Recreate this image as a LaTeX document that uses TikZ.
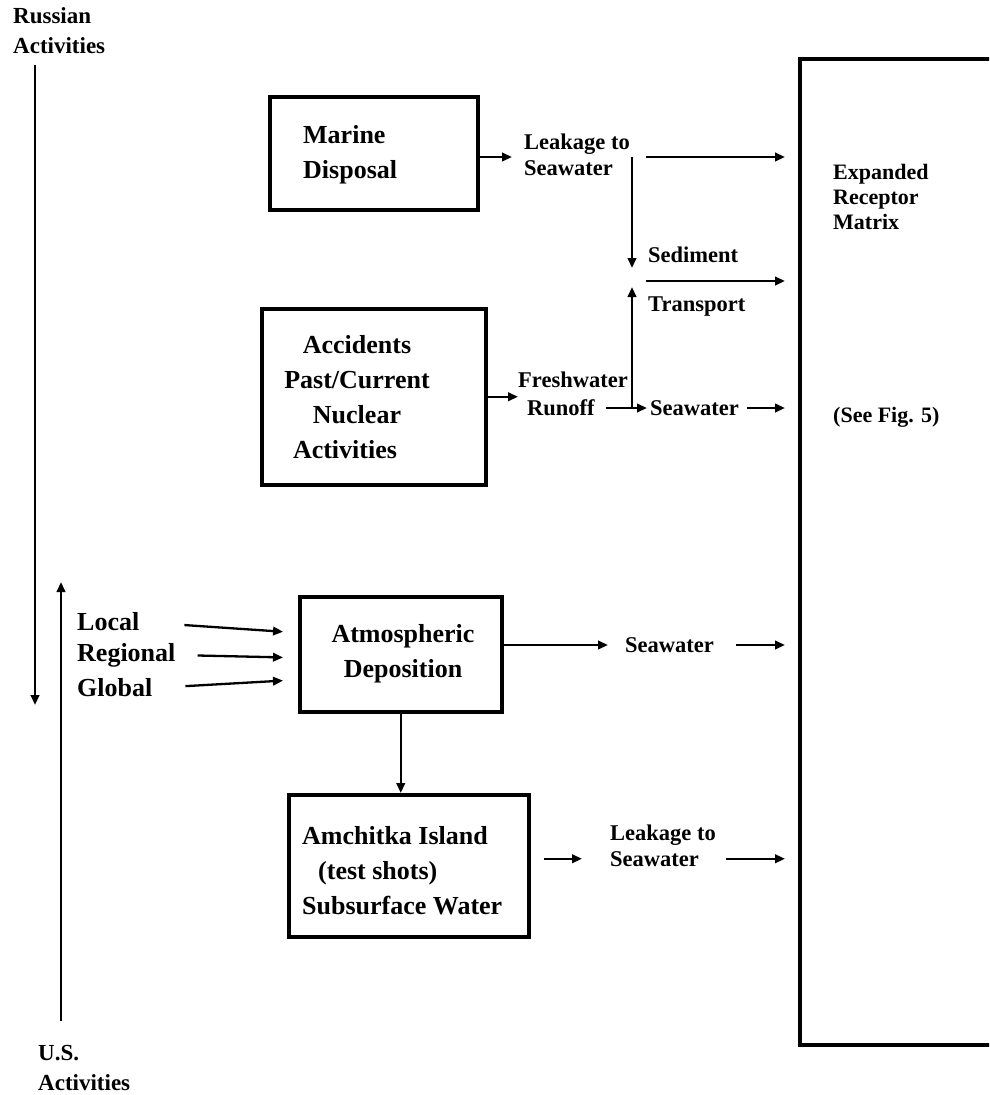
\documentclass[tikz,border=0pt]{standalone}
\usepackage{fontspec}
\setmainfont{Liberation Serif}
\usetikzlibrary{arrows.meta}
\tikzset{
  box/.style={draw, line width=3.5pt, inner sep=0pt, anchor=north west},
  lbl/.style={font=\bfseries\fontsize{22.5}{26}\selectfont, inner sep=0pt, align=left, anchor=west},
  boxtxt/.style={font=\bfseries\fontsize{26}{35}\selectfont, inner sep=0pt},
  lrg/.style={font=\bfseries\fontsize{26}{33}\selectfont, inner sep=0pt, anchor=west},
  side/.style={font=\bfseries\fontsize{23}{30}\selectfont, inner sep=0pt, align=left, anchor=west},
  rtxt/.style={font=\bfseries\fontsize{22}{25}\selectfont, inner sep=0pt, align=left, anchor=west},
  arr/.style={line width=2.3pt, -{Triangle[length=10pt,width=8.5pt]}},
}
\begin{document}
\begin{tikzpicture}[x=1pt,y=-1pt]
\useasboundingbox (0,0) rectangle (989,1095);
\clip (0,0) rectangle (989,1095);

% side labels and their long arrows
\node[side] (ru) at (13,31) {Russian\\Activities};
\node[side] (us) at (38,1068) {U.S.\\Activities};
\coordinate (ruEnd) at (35,705);
\coordinate (usEnd) at (61,582);
\draw[arr] ([shift={(22,11)}]ru.south west) -- (ruEnd);
\draw[arr] ([shift={(23,-24)}]us.north west) -- (usEnd);

% receptor matrix (runs off the right edge)
\node[box, minimum width=210, minimum height=986] (rec) at (798,57) {};
\node[rtxt] (recT) at (833,197) {Expanded\\Receptor\\Matrix};
\node[rtxt] (recF) at (833,417) {(See Fig. 5)};

% source boxes
\node[box, minimum width=208, minimum height=113] (mar) at (268,95) {};
\node[boxtxt, align=left, anchor=west] (marT) at (303,155) {Marine\\Disposal};

\node[box, minimum width=224, minimum height=176] (acc) at (260,307) {};
\node[boxtxt, align=center] (accT) at (357,397) {Accidents\\Past/Current\\Nuclear\\Activities\hspace*{24pt}};

\node[box, minimum width=202, minimum height=115] (atm) at (298,595) {};
\node[boxtxt, align=center] (atmT) at (403,654) {Atmospheric\\Deposition};

\node[box, minimum width=240, minimum height=142] (amc) at (287,793) {};
\node[boxtxt, align=left, anchor=west] (amcT) at (302,871) {Amchitka Island\\\hspace*{16pt}(test shots)\\Subsurface Water};

% scales of deposition
\node[lrg] (loc) at (77,622) {Local};
\node[lrg] (reg) at (77,655) {Regional};
\node[lrg] (glo) at (77,688) {Global};

% pathway labels
\node[lbl] (leak1) at (524,155) {Leakage to\\Seawater};
\node[lbl] (sed) at (648,255) {Sediment};
\node[lbl] (tra) at (648,307) {Transport};
\node[lbl] (fw) at (518,380) {Freshwater};
\node[lbl] (ro) at (527,408) {Runoff};
\node[lbl] (sw1) at (650,408) {Seawater};
\node[lbl] (sw2) at (625,645) {Seawater};
\node[lbl] (leak2) at (610,846) {Leakage to\\Seawater};

% junctions
\coordinate (jA) at (632,157);
\coordinate (jB) at (632,281);
\coordinate (jC) at (632,408);
\coordinate (jE) at ([yshift=7pt]amc.east);

% marine disposal pathways
\draw[arr, shorten >=12pt] (mar.east |- jA) -- (leak1.west |- jA);
\draw[arr, shorten >=13pt] ([xshift=14pt]jA) -- (rec.west |- jA);
\draw[arr, shorten >=13pt] (jA) -- (jB);
\draw[arr, shorten >=6pt] (jC) -- (jB);
\draw[arr, shorten >=13pt] ([xshift=14pt]jB) -- (rec.west |- jB);

% accidents pathways
\draw[arr] (acc.east) -- (fw.west |- acc.east);
\draw[arr, shorten <=11pt, shorten >=3pt] (ro.east) -- (sw1.west);
\draw[arr, shorten <=8pt, shorten >=13pt] (sw1.east) -- (rec.west |- sw1.east);

% atmospheric pathways
\draw[arr, shorten <=45pt, shorten >=15pt] (loc.east) -- ([yshift=21.5pt]atm.west);
\draw[arr, shorten <=22pt, shorten >=15pt] (reg.east) -- ([yshift=-3.5pt]atm.west);
\draw[arr, shorten <=33pt, shorten >=15pt] (glo.east) -- ([yshift=-25.5pt]atm.west);
\draw[arr, shorten >=17pt] (atm.east |- sw2.west) -- (sw2.west);
\draw[arr, shorten <=22pt, shorten >=13pt] (sw2.east) -- (rec.west |- sw2.east);
\draw[arr] (atm.south) -- (atm.south |- amc.north);

% amchitka pathways
\draw[arr, shorten <=13pt, shorten >=28pt] (jE) -- (jE -| leak2.west);
\draw[arr, shorten <=10pt, shorten >=13pt] (leak2.east |- jE) -- (rec.west |- jE);
\end{tikzpicture}
\end{document}
